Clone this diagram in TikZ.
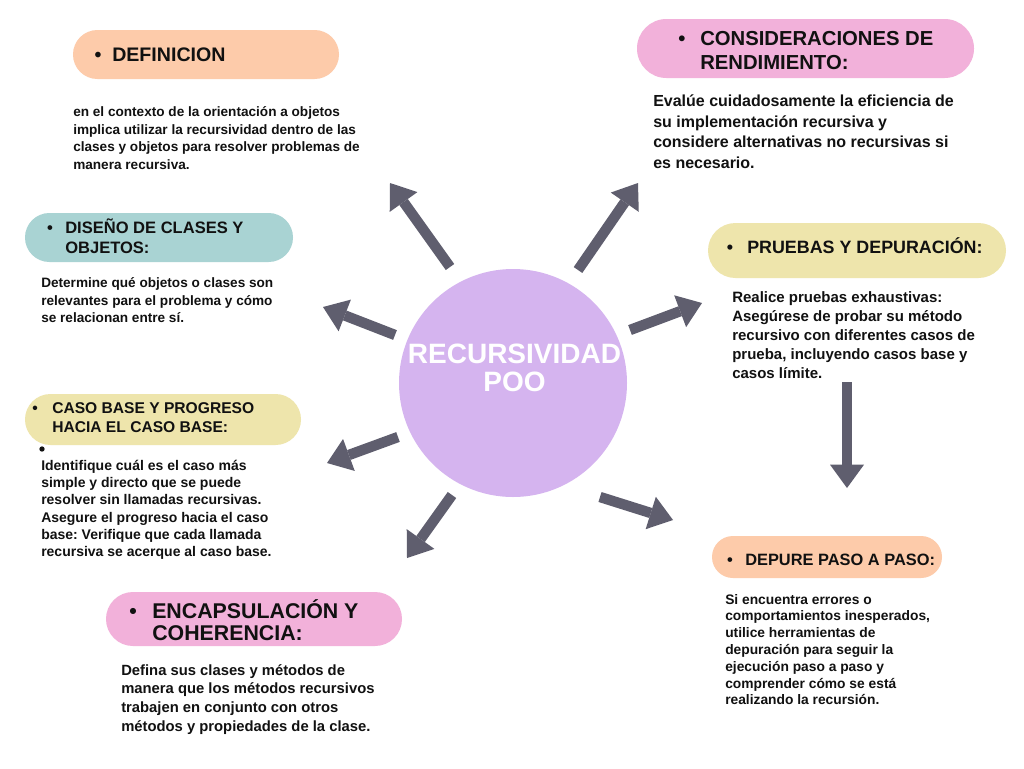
\documentclass[tikz,border=0pt]{standalone}
\usepackage{fontspec}
\setmainfont{Liberation Sans}
\usetikzlibrary{arrows.meta}
\definecolor{pillpeach}{HTML}{FDCBAA}
\definecolor{pillteal}{HTML}{A9D3D3}
\definecolor{pillyel}{HTML}{EEE5AC}
\definecolor{pillpink}{HTML}{F2B1DA}
\definecolor{circ}{HTML}{D5B4EF}
\definecolor{arrowc}{HTML}{5F5E6E}
\definecolor{ink}{HTML}{111111}
\frenchspacing
\newcommand\lines[3]{{\fontsize{#1}{#2}\selectfont\begin{tabular}[t]{@{}l@{}}#3\end{tabular}}}
\newcommand\clines[3]{{\fontsize{#1}{#2}\selectfont\begin{tabular}[t]{@{}c@{}}#3\end{tabular}}}
\newcommand\bul[1]{{\fontsize{#1}{#1}\selectfont\textbullet}}
\tikzset{
  pill/.style={rectangle, inner sep=0pt, draw=none},
  txt/.style={anchor=base west, inner sep=0pt, text=ink, font=\bfseries},
  bulnode/.style={anchor=base, inner sep=0pt, text=ink, font=\bfseries},
  arr/.style={draw=arrowc, line width=7.8pt, -{Triangle[length=17.5pt,width=25.5pt,line width=0pt]}}
}
\begin{document}
\frenchspacing
\begin{tikzpicture}[x=0.75pt,y=-0.75pt]
\useasboundingbox (0,0) rectangle (1024,768);
\fill[white] (0,0) rectangle (1024,768);
% pills
\node[pill, fill=pillpeach, minimum width=199.5pt, minimum height=36.75pt, rounded corners=18.3pt] (p1) at (206,54.5) {};
\node[pill, fill=pillteal, minimum width=201pt, minimum height=36.75pt, rounded corners=18.3pt] (p2) at (159,237.5) {};
\node[pill, fill=pillyel, minimum width=207pt, minimum height=38.25pt, rounded corners=19.1pt] (p3) at (163,419.5) {};
\node[pill, fill=pillpink, minimum width=222pt, minimum height=40.5pt, rounded corners=20.2pt] (p4) at (254,619) {};
\node[pill, fill=pillpink, minimum width=252.75pt, minimum height=44.25pt, rounded corners=22.1pt] (p5) at (805.5,48.5) {};
\node[pill, fill=pillyel, minimum width=223.5pt, minimum height=41.25pt, rounded corners=20.6pt] (p6) at (857,250.5) {};
\node[pill, fill=pillpeach, minimum width=172.5pt, minimum height=31.5pt, rounded corners=15.7pt] (p7) at (827,557) {};
% centre
\node[circle, fill=circ, minimum size=171pt, inner sep=0pt] (c) at (513,383) {};
\node[anchor=base, inner sep=0pt, text=white, font=\bfseries] (ct) at (514.5,363.3) {\clines{21}{21.3}{RECURSIVIDAD\\POO}};
% headings
\node[bulnode] (b1) at (98,61.7) {\bul{14.7}};
\node[txt] (h1) at (112,61.7) {\lines{14.7}{17}{DEFINICION}};
\node[bulnode] (b2) at (50,233.3) {\bul{12.4}};
\node[txt] (h2) at (65,233.3) {\lines{12.4}{15}{DISEÑO DE CLASES Y\\OBJETOS:}};
\node[bulnode] (b3) at (35,413.3) {\bul{11.7}};
\node[txt] (h3) at (52,413.3) {\lines{11.7}{14.5}{CASO BASE Y PROGRESO\\HACIA EL CASO BASE:}};
\node[bulnode] (b4) at (133,618.3) {\bul{16}};
\node[txt] (h4) at (152,618.3) {\lines{16}{16.3}{ENCAPSULACIÓN Y\\COHERENCIA:}};
\node[bulnode] (b5) at (682,45) {\bul{15.2}};
\node[txt] (h5) at (700,45) {\lines{15.2}{18}{CONSIDERACIONES DE\\RENDIMIENTO:}};
\node[bulnode] (b6) at (730,253.3) {\bul{13.4}};
\node[txt] (h6) at (747,253.3) {\lines{13.4}{16}{PRUEBAS Y DEPURACIÓN:}};
\node[bulnode] (b7) at (730,565) {\bul{12.3}};
\node[txt] (h7) at (745,565) {\lines{12.3}{15}{DEPURE PASO A PASO:}};
% bodies
\node[txt] (t1) at (73,116.7) {\lines{10.2}{13.1}{en el contexto de la orientación a objetos\\implica utilizar la recursividad dentro de las\\clases y objetos para resolver problemas de\\manera recursiva.}};
\node[txt] (t2) at (41,287.3) {\lines{10.2}{13.3}{Determine qué objetos o clases son\\relevantes para el problema y cómo\\se relacionan entre sí.}};
\node[circle, fill=ink, minimum size=4pt, inner sep=0pt] (cb) at (42,449) {};
\node[txt] (t3) at (41,470) {\lines{10.5}{13}{Identifique cuál es el caso más\\simple y directo que se puede\\resolver sin llamadas recursivas.\\Asegure el progreso hacia el caso\\base: Verifique que cada llamada\\recursiva se acerque al caso base.}};
\node[txt] (t4) at (121,675) {\lines{11.1}{14.2}{Defina sus clases y métodos de\\manera que los métodos recursivos\\trabajen en conjunto con otros\\métodos y propiedades de la clase.}};
\node[txt] (t5) at (653,106.7) {\lines{12}{15.4}{Evalúe cuidadosamente la eficiencia de\\su implementación recursiva y\\considere alternativas no recursivas si\\es necesario.}};
\node[txt] (t6) at (732,302.3) {\lines{11.25}{14.25}{Realice pruebas exhaustivas:\\Asegúrese de probar su método\\recursivo con diferentes casos de\\prueba, incluyendo casos base y\\casos límite.}};
\node[txt] (t7) at (725,604) {\lines{10.35}{12.6}{Si encuentra errores o\\comportamientos inesperados,\\utilice herramientas de\\depuración para seguir la\\ejecución paso a paso y\\comprender cómo se está\\realizando la recursión.}};
% arrows
\coordinate (a1s) at (450,267); \coordinate (a1e) at (390,183);
\coordinate (a2s) at (578,270); \coordinate (a2e) at (638,183);
\coordinate (a3s) at (395,335); \coordinate (a3e) at (323,307);
\coordinate (a4s) at (630,330); \coordinate (a4e) at (702,303);
\coordinate (a5s) at (398,437); \coordinate (a5e) at (327,463);
\coordinate (a6s) at (452,495); \coordinate (a6e) at (407,558);
\coordinate (a7s) at (600,497); \coordinate (a7e) at (673,520);
\coordinate (a8s) at (847,382); \coordinate (a8e) at (847,488);
\draw[arr] (a1s) -- (a1e);
\draw[arr] (a2s) -- (a2e);
\draw[arr] (a3s) -- (a3e);
\draw[arr] (a4s) -- (a4e);
\draw[arr] (a5s) -- (a5e);
\draw[arr] (a6s) -- (a6e);
\draw[arr] (a7s) -- (a7e);
\draw[arr] (a8s) -- (a8e);
\end{tikzpicture}
\end{document}
